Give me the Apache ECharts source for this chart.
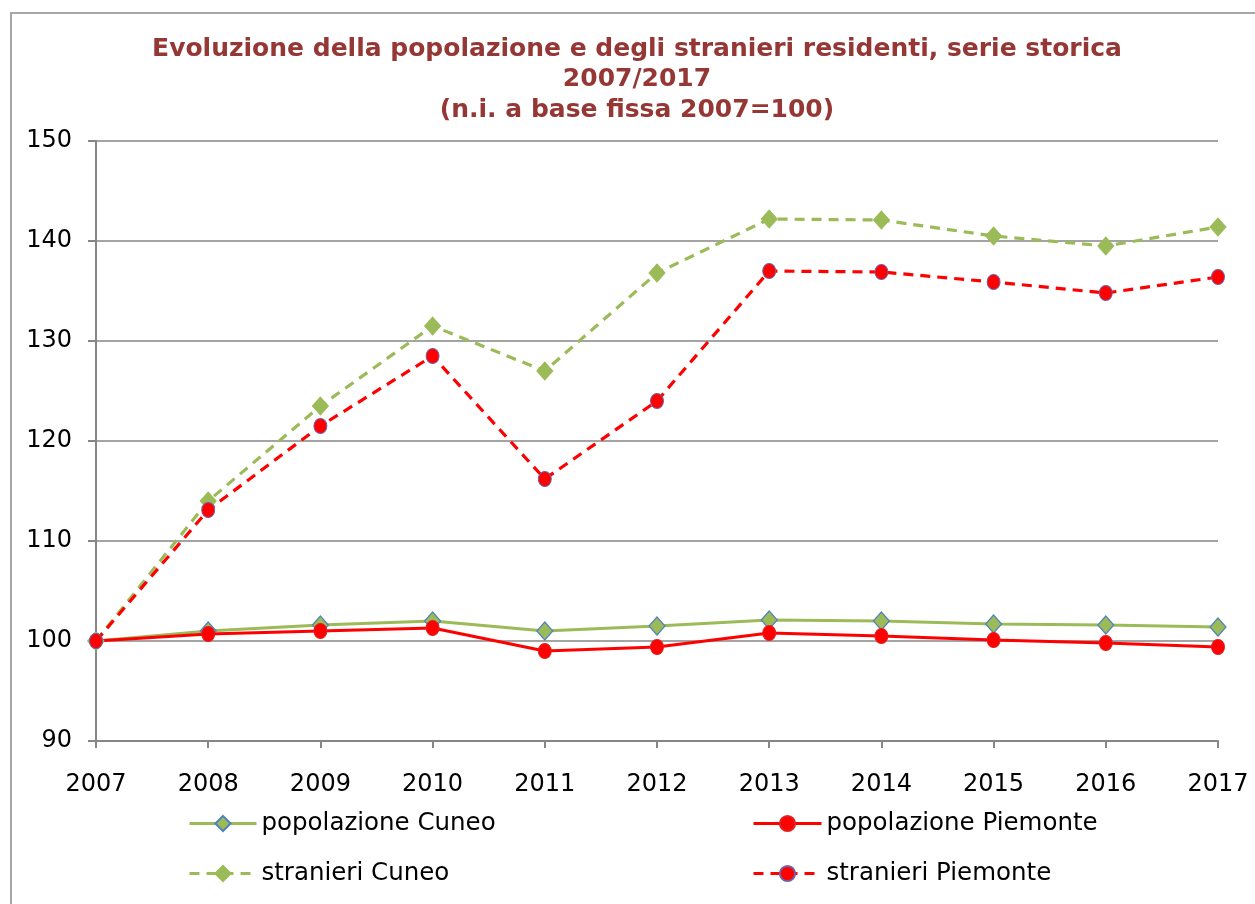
<!DOCTYPE html>
<html>
<head>
<meta charset="utf-8">
<script src="https://cdn.jsdelivr.net/npm/echarts@6/dist/echarts.min.js"></script>
<style>
html,body{margin:0;padding:0;background:#fff;}
#chart{width:1255px;height:904px;}
</style>
</head>
<body>
<div id="chart"></div>
<script>
const years = ['2007','2008','2009','2010','2011','2012','2013','2014','2015','2016','2017'];
const popCuneo = [100, 101.0, 101.6, 102.0, 101.0, 101.5, 102.1, 102.0, 101.7, 101.6, 101.4];
const popPiemonte = [100, 100.7, 101.0, 101.3, 99.0, 99.4, 100.8, 100.5, 100.1, 99.8, 99.4];
const strCuneo = [100, 114.0, 123.5, 131.5, 127.0, 136.8, 142.2, 142.1, 140.5, 139.5, 141.4];
const strPiemonte = [100, 113.1, 121.5, 128.5, 116.2, 124.0, 137.0, 136.9, 135.9, 134.8, 136.4];
const seriesNames = ['popolazione Cuneo', 'popolazione Piemonte', 'stranieri Cuneo', 'stranieri Piemonte'];
const titleText = 'Evoluzione della popolazione e degli stranieri residenti, serie storica\n2007/2017\n(n.i. a base fissa 2007=100)';

const GREEN = '#9BBB59', RED = '#FF0000', GRAY = '#868686';
const FONT = 'DejaVu Sans';

const chart = echarts.init(document.getElementById('chart'), null, {renderer: 'canvas'});

function legendAt(name, left, top, w) {
  return {
    data: [name], left: left, top: top, orient: 'horizontal',
    itemWidth: w, itemHeight: 19, itemGap: 0, padding: 0,
    lineStyle: {width: 3},
    textStyle: {fontFamily: FONT, fontSize: 24.5, color: '#000', padding: [0,0,0,0]},
    selectedMode: false
  };
}

chart.setOption({
  animation: false,
  backgroundColor: '#fff',
  graphic: [{
    type: 'rect', left: 10, top: 12, z: -1,
    shape: {x: 0, y: 0, width: 1280, height: 920},
    style: {fill: '#fff', stroke: '#A6A6A6', lineWidth: 2}
  }],
  title: {
    text: titleText, left: 632, top: 29, textAlign: 'center',
    textStyle: {fontFamily: FONT, fontWeight: 'bold', fontSize: 25, color: '#953735', lineHeight: 30.5}
  },
  legend: [
    legendAt(seriesNames[0], 188, 811, 67),
    legendAt(seriesNames[1], 752, 811, 68),
    legendAt(seriesNames[2], 188, 861, 67),
    legendAt(seriesNames[3], 752, 861, 68)
  ],
  grid: {left: 96, right: 37, top: 141, bottom: 163, containLabel: false},
  xAxis: {
    type: 'category', data: years, boundaryGap: false,
    axisLine: {lineStyle: {color: GRAY, width: 2}},
    axisTick: {show: true, length: 7, lineStyle: {color: GRAY, width: 2}, alignWithLabel: true},
    axisLabel: {fontFamily: FONT, fontSize: 24, color: '#000', margin: 32},
    splitLine: {show: false}
  },
  yAxis: {
    type: 'value', min: 90, max: 150, interval: 10,
    axisLine: {show: true, lineStyle: {color: GRAY, width: 2}},
    axisTick: {show: true, length: 8, lineStyle: {color: GRAY, width: 2}},
    axisLabel: {fontFamily: FONT, fontSize: 24, color: '#000', margin: 24},
    splitLine: {show: true, lineStyle: {color: GRAY, width: 1.5}}
  },
  series: [
    {
      name: seriesNames[0], type: 'line', data: popCuneo,
      symbol: 'diamond', symbolSize: [16, 18], showAllSymbol: true,
      lineStyle: {color: GREEN, width: 3.2},
      itemStyle: {color: GREEN, borderColor: '#4F81BD', borderWidth: 1.2},
      z: 2
    },
    {
      name: seriesNames[1], type: 'line', data: popPiemonte,
      symbol: 'circle', symbolSize: [13, 15], showAllSymbol: true,
      lineStyle: {color: RED, width: 3.2},
      itemStyle: {color: RED, borderColor: '#E02020', borderWidth: 1},
      z: 3
    },
    {
      name: seriesNames[2], type: 'line', data: strCuneo,
      symbol: 'diamond', symbolSize: [16, 18], showAllSymbol: true,
      lineStyle: {color: GREEN, width: 3.2, type: [10, 7]},
      itemStyle: {color: GREEN, borderColor: GREEN, borderWidth: 1},
      z: 4
    },
    {
      name: seriesNames[3], type: 'line', data: strPiemonte,
      symbol: 'circle', symbolSize: [13, 15], showAllSymbol: true,
      lineStyle: {color: RED, width: 3.2, type: [10, 7]},
      itemStyle: {color: RED, borderColor: '#7060A8', borderWidth: 1},
      z: 5
    }
  ]
});
</script>
</body>
</html>
